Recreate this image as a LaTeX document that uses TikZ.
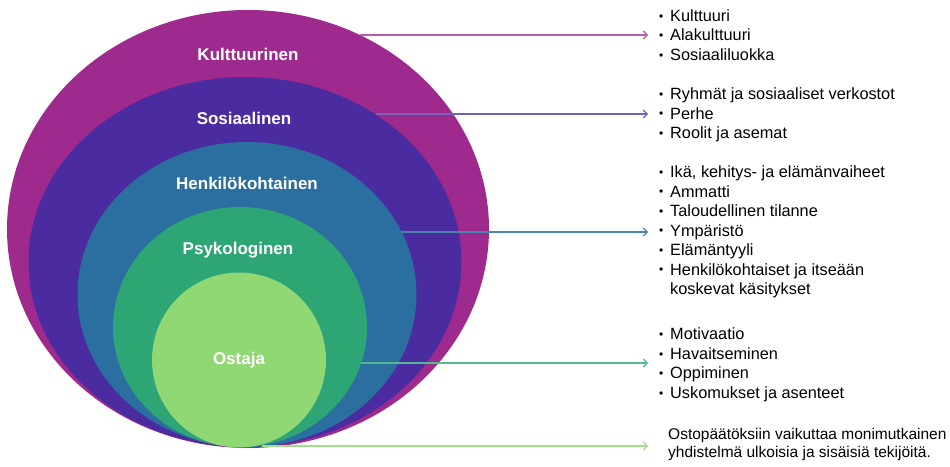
\documentclass[tikz,border=0pt]{standalone}
\usepackage{fontspec}
\setmainfont{Liberation Sans}
\usetikzlibrary{arrows.meta, shapes.geometric, positioning}

\definecolor{kultcol}{RGB}{159,42,142}
\definecolor{sosicol}{RGB}{74,43,160}
\definecolor{henkcol}{RGB}{43,111,160}
\definecolor{psykcol}{RGB}{45,165,116}
\definecolor{ostacol}{RGB}{143,216,116}

\newcommand{\bul}{\makebox[11pt][l]{\raisebox{1.3pt}{\fontsize{12}{12}\selectfont\textbullet}}}
\newcommand{\cont}{\hspace*{11pt}}

\begin{document}
\begin{tikzpicture}[x=1pt, y=-1pt, >={Straight Barb[length=4pt,width=8pt]},
    ring/.style={ellipse, draw=none, inner sep=0pt},
    tag/.style={text=white, font=\fontsize{17}{20}\selectfont\bfseries},
    list/.style={anchor=west, align=left, inner xsep=11pt, inner ysep=0pt,
                 font=\fontsize{16.3}{19.5}\selectfont},
    link/.style={->, line width=1.1pt}]

    \useasboundingbox (0,0) rectangle (950,466);

    % nested circles
    \node[ring, fill=kultcol, minimum width=482pt, minimum height=438pt] (kult) at (248,229) {};
    \node[ring, fill=sosicol, minimum width=433pt, minimum height=370pt] (sosi) at (245,262) {};
    \node[ring, fill=henkcol, minimum width=339pt, minimum height=305pt] (henk) at (247,294.5) {};
    \node[ring, fill=psykcol, minimum width=254pt, minimum height=240pt] (psyk) at (240,327) {};
    \node[ring, fill=ostacol, minimum width=174pt, minimum height=175pt] (osta) at (239,360) {};

    \node[tag] (kult-t) at (248,54) {Kulttuurinen};
    \node[tag] (sosi-t) at (244,118) {Sosiaalinen};
    \node[tag] (henk-t) at (247,183) {Henkilökohtainen};
    \node[tag] (psyk-t) at (238,250) {Psykologinen};
    \node[tag] (osta-t) at (239,360) {Ostaja};

    % arrow starts on the borders
    \coordinate (kult-a) at (360,35);
    \coordinate (sosi-a) at (376,114);
    \coordinate (henk-a) at (401,232);
    \coordinate (psyk-a) at (361,363);
    \coordinate (osta-a) at (262,446);

    % lists
    \node[list] (kult-l) at (648,35) {\bul Kulttuuri\\ \bul Alakulttuuri\\ \bul Sosiaaliluokka};
    \node[list] (sosi-l) at (648,115) {\bul Ryhmät ja sosiaaliset verkostot\\ \bul Perhe\\ \bul Roolit ja asemat};
    \node[list] (henk-l) at (648,232) {\bul Ikä, kehitys- ja elämänvaiheet\\ \bul Ammatti\\
        \bul Taloudellinen tilanne\\ \bul Ympäristö\\ \bul Elämäntyyli\\
        \bul Henkilökohtaiset ja itseään\\ \cont koskevat käsitykset};
    \node[list] (psyk-l) at (648,365) {\bul Motivaatio\\ \bul Havaitseminen\\ \bul Oppiminen\\ \bul Uskomukset ja asenteet};
    \node[list, inner xsep=20pt, font=\fontsize{15.5}{18}\selectfont] (osta-l) at (648,444)
        {Ostopäätöksiin vaikuttaa monimutkainen\\ yhdistelmä ulkoisia ja sisäisiä tekijöitä.};

    \draw[link, draw=kultcol!75!white] (kult-a) -- (kult-a -| kult-l.west);
    \draw[link, draw=sosicol!75!white] (sosi-a) -- (sosi-a -| sosi-l.west);
    \draw[link, draw=henkcol!85!white] (henk-a) -- (henk-a -| henk-l.west);
    \draw[link, draw=psykcol!80!white] (psyk-a) -- (psyk-a -| psyk-l.west);
    \draw[link, draw=ostacol!85!white] (osta-a) -- (osta-a -| osta-l.west);
\end{tikzpicture}
\end{document}
